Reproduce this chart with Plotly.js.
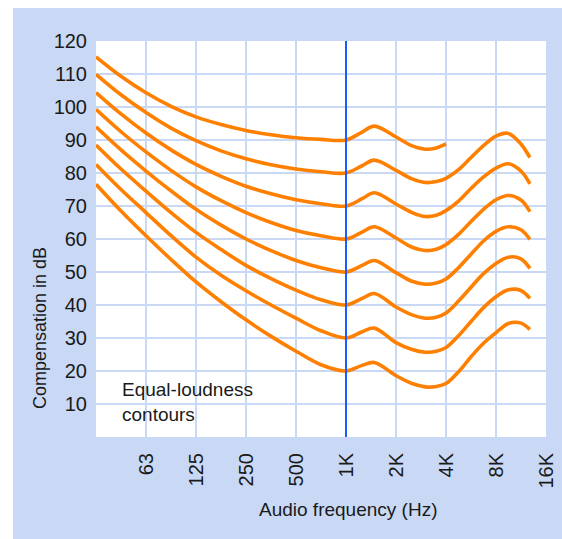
<!DOCTYPE html>
<html>
<head>
<meta charset="utf-8">
<script src="https://cdn.plot.ly/plotly-3.0.1.min.js"></script>
<style>
html, body { margin: 0; padding: 0; background: #ffffff; width: 562px; height: 539px; overflow: hidden; }
#chart { position: absolute; left: 13px; top: 8px; width: 549px; height: 531px; }
</style>
</head>
<body>
<div id="chart"></div>
<script>
// Frequencies (Hz) shared by all contours
const freqs = [31.25, 44.2, 62.5, 88.4, 125, 177, 250, 354, 500, 707, 1000,
               1250, 1480, 2000, 2500, 3000, 3500, 4000,
               4760, 5660, 6730, 8000, 9500, 11300, 12800];

// Contour levels (dB at 1 kHz) and their values
const levels = [90, 80, 70, 60, 50, 40, 30, 20];
const c90 = [115.2, 109.3, 104.3, 100.2, 97.0, 94.7, 92.9, 91.6, 90.7, 90.2, 90.0,
             92.4, 94.2, 90.9, 88.2, 87.2, 87.6, 88.8];
const c80 = [109.9, 103.7, 98.3, 93.6, 89.8, 86.7, 84.3, 82.5, 81.2, 80.4, 80.0,
             82.2, 83.9, 80.8, 78.2, 77.1, 77.4, 78.4,
             81.0, 84.7, 88.3, 91.2, 92.0, 88.8, 84.7];
const c70 = [104.4, 97.9, 92.1, 87.0, 82.6, 79.0, 76.0, 73.7, 71.9, 70.7, 70.0,
             72.2, 74.0, 70.6, 68.0, 66.8, 67.2, 68.6,
             71.5, 75.3, 78.8, 81.5, 82.8, 80.6, 76.7];
const c60 = [99.3, 92.5, 86.4, 80.8, 75.8, 71.6, 68.0, 65.0, 62.6, 61.0, 60.0,
             62.1, 63.7, 60.3, 57.5, 56.5, 56.9, 58.3,
             61.4, 65.3, 69.0, 71.9, 73.2, 71.8, 68.3];
const c50 = [94.0, 87.0, 80.6, 74.6, 69.0, 64.2, 60.0, 56.5, 53.5, 51.3, 50.0,
             52.0, 53.5, 49.8, 47.2, 46.3, 46.7, 47.9,
             51.3, 55.4, 59.4, 62.3, 63.7, 62.8, 59.9];
const c40 = [88.5, 81.2, 74.5, 68.0, 62.0, 56.8, 52.0, 48.0, 44.5, 41.6, 40.0,
             42.0, 43.5, 39.4, 37.0, 36.0, 36.3, 37.6,
             41.2, 45.4, 49.5, 52.6, 54.5, 54.0, 51.1];
const c30 = [82.6, 75.0, 68.0, 61.0, 54.5, 49.0, 44.3, 40.0, 36.0, 32.2, 30.0,
             31.9, 33.0, 28.6, 26.5, 25.7, 26.0, 27.1,
             30.7, 35.0, 39.2, 42.5, 44.6, 44.4, 42.0];
const c20 = [76.6, 68.5, 61.0, 53.8, 47.0, 41.0, 35.5, 30.5, 26.0, 21.9, 20.0,
             21.7, 22.6, 18.6, 16.2, 15.2, 15.3, 16.2,
             19.8, 24.3, 28.4, 31.6, 34.4, 34.5, 32.6];

// Axis ticks
const xTickVals = [62.5, 125, 250, 500, 1000, 2000, 4000, 8000, 16000];
const xTickText = ['63', '125', '250', '500', '1K', '2K', '4K', '8K', '16K'];
const yTickVals = [10, 20, 30, 40, 50, 60, 70, 80, 90, 100, 110, 120];
const refFreq = [1000, 1000];
const refRange = [0, 120];

const FONT = '"Liberation Sans", Arial, sans-serif';
const ORANGE = '#ff8000';

const contours = [c90, c80, c70, c60, c50, c40, c30, c20];
const traces = contours.map((vals, i) => ({
  type: 'scatter',
  mode: 'lines',
  name: levels[i] + ' dB',
  x: freqs.slice(0, vals.length),
  y: vals,
  line: { color: ORANGE, width: 3.6, shape: 'spline', smoothing: 1 },
  hoverinfo: 'skip'
}));
traces.push({
  type: 'scatter', mode: 'lines', x: refFreq, y: refRange,
  line: { color: '#1a5cff', width: 2 }, hoverinfo: 'skip'
});

const layout = {
  width: 549, height: 531,
  margin: { l: 83, r: 16, t: 33, b: 102 },
  paper_bgcolor: '#c9d9f5',
  plot_bgcolor: '#ffffff',
  showlegend: false,
  font: { family: FONT, color: '#1a1a1a', size: 18 },
  xaxis: {
    type: 'log',
    range: [Math.log10(31.25), Math.log10(16000)],
    tickvals: xTickVals, ticktext: xTickText,
    tickangle: -90,
    ticks: '', ticklabelstandoff: 11,
    tickfont: { family: FONT, size: 20, color: '#1a1a1a' },
    showgrid: true, gridcolor: '#c9d9f5', gridwidth: 2,
    zeroline: false, showline: false
  },
  yaxis: {
    range: [0, 120],
    tickvals: yTickVals,
    ticks: '', ticklabelstandoff: 8,
    tickfont: { family: FONT, size: 20, color: '#1a1a1a' },
    showgrid: true, gridcolor: '#c9d9f5', gridwidth: 2,
    zeroline: false, showline: false
  },
  annotations: [
    { xref: 'paper', yref: 'paper', x: -0.1244, y: 0.275, text: 'Compensation in dB',
      textangle: -90, showarrow: false, xanchor: 'center', yanchor: 'middle',
      font: { family: FONT, size: 18, color: '#1a1a1a' } },
    { xref: 'paper', yref: 'paper', x: 0.56, y: -0.1843, text: 'Audio frequency (Hz)',
      showarrow: false, xanchor: 'center', yanchor: 'middle',
      font: { family: FONT, size: 19, color: '#1a1a1a' } },
    { xref: 'paper', yref: 'paper', x: 0.054, y: 0.088, text: 'Equal-loudness<br>contours',
      showarrow: false, xanchor: 'left', yanchor: 'middle', align: 'left',
      font: { family: FONT, size: 19, color: '#1a1a1a' } }
  ]
};

Plotly.newPlot('chart', traces, layout, { displayModeBar: false, staticPlot: true });
</script>
</body>
</html>
